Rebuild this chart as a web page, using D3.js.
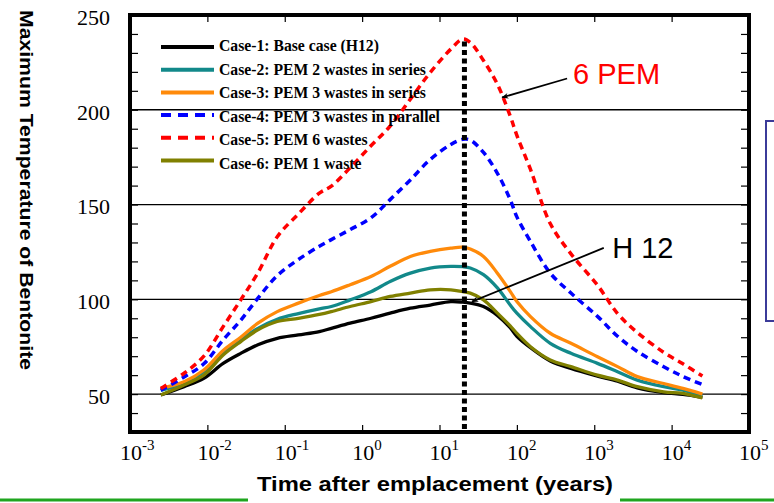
<!DOCTYPE html>
<html><head><meta charset="utf-8">
<script src="https://cdn.jsdelivr.net/npm/d3@7"></script>
<style>body{margin:0;background:#fff}svg{display:block}</style>
</head><body>
<svg id="chart" width="774" height="503"></svg>
<script>
// ---------------- data ----------------
const times = [0.0025, 0.005, 0.009, 0.016, 0.027, 0.045, 0.08, 0.15, 0.28, 0.4, 0.7, 1.3, 2.3, 4.2, 7.6, 14, 20, 25, 37, 56, 82, 100, 150, 270, 500, 1100, 2000, 3600, 7900, 14000, 25000];
const case1 = [49.5, 53.9, 58.3, 66.2, 71.5, 76, 79.4, 81.2, 83, 84.7, 87.4, 90, 92.7, 95.3, 97, 98.8, 98.5, 98, 96.2, 91.5, 85, 80.5, 74.5, 67.5, 63.5, 59.5, 56.8, 53.3, 50.8, 49.8, 48.3];
const case2 = [52, 55.6, 61.8, 71.5, 78.6, 84.7, 89.5, 92.5, 95, 96.2, 99.7, 104, 109.4, 113.8, 116.5, 117.4, 117.2, 116.5, 113, 106, 97, 92.7, 85.6, 76.8, 71.5, 66.2, 61.8, 57.4, 53.9, 52.1, 49];
const case3 = [53, 56.5, 62.7, 73, 80, 87.4, 93.5, 98, 102, 104, 107.7, 112, 117.4, 122.6, 125.3, 127, 127.5, 126.5, 122.6, 113.8, 104.2, 98.8, 90.9, 82.1, 76.8, 69.7, 64.5, 59.2, 55.6, 53, 50];
const case4 = [52, 59, 66, 78.6, 89, 100.6, 112.5, 121, 128, 131.5, 136.8, 143, 152.6, 163, 173.8, 181.7, 184.4, 184, 177.5, 166.5, 152.6, 143.5, 130.5, 113.8, 103.3, 91, 80.5, 72.5, 64.4, 59.3, 55];
const case5 = [53, 61, 70, 85.6, 99.7, 114, 133, 145, 156, 159.7, 169.4, 181, 191.4, 205.6, 219.7, 232, 237.3, 235.5, 226, 213.5, 196.7, 186.5, 168.5, 140, 124, 107.5, 92.5, 82.5, 72, 66, 59.5];
const case6 = [49.5, 54.8, 60, 70.6, 77.7, 83.9, 88.3, 90, 92, 93.5, 96.2, 98.8, 101.5, 103.3, 105, 105, 104, 103.3, 99.7, 92.7, 86, 82, 75, 68, 64.5, 60, 57.4, 53.9, 51.2, 50.4, 48];

const seriesNames = ["Case-1: Base case (H12)", "Case-2: PEM 2 wastes in series", "Case-3: PEM 3 wastes in series", "Case-4: PEM 3 wastes in parallel", "Case-5: PEM 6 wastes", "Case-6: PEM 1 waste"];
const seriesValues = [case1, case2, case3, case4, case5, case6];
const seriesColors = ["#000000", "#12898a", "#ff8a0a", "#0000ff", "#ff0000", "#808000"];
const seriesDashed = [false, false, false, true, true, false];

const xTickExponents = [-3, -2, -1, 0, 1, 2, 3, 4, 5];
const yTickLabels = [50, 100, 150, 200, 250];
const yGridValues = [50, 100, 150, 200];
const peakTime = 21;   // vertical dotted marker (years)
const peakTop = 236;   // where the marker starts (°C)

const xTitle = "Time after emplacement (years)";
const yTitle = "Maximum Temperature of Bentonite";

// annotations in data units: text anchor, arrow start, arrow tip
const annotations = [
  {label: "6 PEM", color: "#ff0000", tx: 533, tv: 213.5, fx: 446, fv: 216.5, ax: 64.4, av: 206.5},
  {label: "H 12", color: "#000000", tx: 1706, tv: 121.8, fx: 1328, fv: 127.1, ax: 26.3, av: 98.8}
];

// ---------------- layout ----------------
const W = 774, H = 503;
const m = {left: 130, right: 25, top: 15, bottom: 71};
const svg = d3.select("#chart");

const x = d3.scaleLog().domain([1e-3, 1e5]).range([m.left, W - m.right]);
const y = d3.scaleLinear().domain([30, 250]).range([H - m.bottom, m.top]);
const serif = "'Liberation Serif','Times New Roman',serif";
const sans = "'Liberation Sans',Arial,sans-serif";

// defs
const defs = svg.append("defs");
defs.append("marker").attr("id", "arr").attr("viewBox", "0 0 10 10")
  .attr("refX", 9).attr("refY", 5).attr("markerWidth", 9).attr("markerHeight", 7)
  .attr("markerUnits", "userSpaceOnUse").attr("orient", "auto")
  .append("path").attr("d", "M0,1 L10,5 L0,9 L3,5 Z").attr("fill", "#000");

// gridlines
svg.append("g").selectAll("line").data(yGridValues).join("line")
  .attr("x1", x.range()[0]).attr("x2", x.range()[1])
  .attr("y1", d => y(d)).attr("y2", d => y(d))
  .attr("stroke", "#000").attr("stroke-width", 1.3);

// series
const line = d3.line().x((d, i) => x(times[i])).y(d => y(d)).curve(d3.curveCatmullRom.alpha(0.5));
svg.append("g").selectAll("path").data(seriesValues).join("path")
  .attr("d", d => line(d))
  .attr("fill", "none")
  .attr("stroke", (d, i) => seriesColors[i])
  .attr("stroke-width", (d, i) => seriesDashed[i] ? 3.5 : 3.3)
  .attr("stroke-dasharray", (d, i) => seriesDashed[i] ? "7,5" : null)
  .attr("stroke-linejoin", "round");

// vertical dotted marker
svg.append("line")
  .attr("x1", x(peakTime)).attr("x2", x(peakTime))
  .attr("y1", y(peakTop)).attr("y2", y(30))
  .attr("stroke", "#000").attr("stroke-width", 5).attr("stroke-dasharray", "5,3.5");

// axes (inward ticks)
const yTicks = d3.range(30, 251, 10);
const gl = svg.append("g").attr("transform", `translate(${m.left},0)`)
  .call(d3.axisLeft(y).tickValues(yTicks).tickSizeInner(-8).tickSizeOuter(0).tickPadding(20)
    .tickFormat(d => yTickLabels.includes(d) ? d : ""));
const gr = svg.append("g").attr("transform", `translate(${W - m.right},0)`)
  .call(d3.axisRight(y).tickValues(yTicks).tickSizeInner(-8).tickSizeOuter(0).tickFormat(""));
const gb = svg.append("g").attr("transform", `translate(0,${H - m.bottom})`)
  .call(d3.axisBottom(x).tickValues(xTickExponents.map(e => Math.pow(10, e))).tickSizeInner(-7).tickSizeOuter(0).tickFormat(""));
const gt = svg.append("g").attr("transform", `translate(0,${m.top})`)
  .call(d3.axisTop(x).tickValues(xTickExponents.map(e => Math.pow(10, e))).tickSizeInner(-7).tickSizeOuter(0).tickFormat(""));
[gl, gr, gb, gt].forEach(g => {
  g.select(".domain").remove();
  g.selectAll(".tick line").attr("stroke", "#000").attr("stroke-width", 1.2);
});
gl.selectAll(".tick text").attr("font-family", serif).attr("font-size", 22).attr("fill", "#000").attr("dy", "0.42em");

// frame
svg.append("rect").attr("x", m.left).attr("y", m.top)
  .attr("width", W - m.left - m.right).attr("height", H - m.top - m.bottom)
  .attr("fill", "none").attr("stroke", "#000").attr("stroke-width", 4);

// x tick labels 10^n
const xl = svg.append("g").selectAll("text").data(xTickExponents).join("text")
  .attr("x", d => x(Math.pow(10, d)) - 10).attr("y", 460)
  .attr("font-family", serif).attr("font-size", 22).attr("fill", "#000");
xl.append("tspan").text("10");
xl.append("tspan").attr("dy", -10).attr("font-size", 15).text(d => d < 0 ? "-" + Math.abs(d) : String(d));

// legend
const lg = svg.append("g");
seriesNames.forEach((name, i) => {
  const ly = 47 + i * 22.7;
  lg.append("line").attr("x1", 161).attr("x2", 214).attr("y1", ly).attr("y2", ly)
    .attr("stroke", seriesColors[i]).attr("stroke-width", 4)
    .attr("stroke-dasharray", seriesDashed[i] ? "10,7" : null);
  lg.append("text").attr("x", 219).attr("y", 51 + i * 23.6)
    .attr("font-family", serif).attr("font-weight", "bold").attr("font-size", 15.7)
    .attr("fill", "#000").text(name);
});

// annotations
annotations.forEach(a => {
  svg.append("line").attr("x1", x(a.fx)).attr("y1", y(a.fv)).attr("x2", x(a.ax)).attr("y2", y(a.av))
    .attr("stroke", "#000").attr("stroke-width", 1.8).attr("marker-end", "url(#arr)");
  svg.append("text").attr("x", x(a.tx)).attr("y", y(a.tv))
    .attr("font-family", sans).attr("font-size", 29).attr("fill", a.color).text(a.label);
});

// right-side partial box
svg.append("rect").attr("x", 766).attr("y", 121).attr("width", 40).attr("height", 200)
  .attr("fill", "none").attr("stroke", "#3b3b99").attr("stroke-width", 2);

// bottom green rule with title on white
svg.append("line").attr("x1", 0).attr("x2", W).attr("y1", 500).attr("y2", 500)
  .attr("stroke", "#1fa51f").attr("stroke-width", 3);
svg.append("rect").attr("x", 248).attr("y", 468).attr("width", 372).attr("height", 35).attr("fill", "#fff");
svg.append("text").attr("x", 435).attr("y", 491).attr("text-anchor", "middle")
  .attr("font-family", sans).attr("font-weight", "bold").attr("font-size", 20)
  .attr("textLength", 356).attr("lengthAdjust", "spacingAndGlyphs")
  .attr("fill", "#000").text(xTitle);

// y title
svg.append("text").attr("transform", "translate(20,190) rotate(90)")
  .attr("text-anchor", "middle")
  .attr("font-family", sans).attr("font-weight", "bold").attr("font-size", 19)
  .attr("textLength", 360).attr("lengthAdjust", "spacingAndGlyphs")
  .attr("fill", "#000").text(yTitle);
</script>
</body></html>
